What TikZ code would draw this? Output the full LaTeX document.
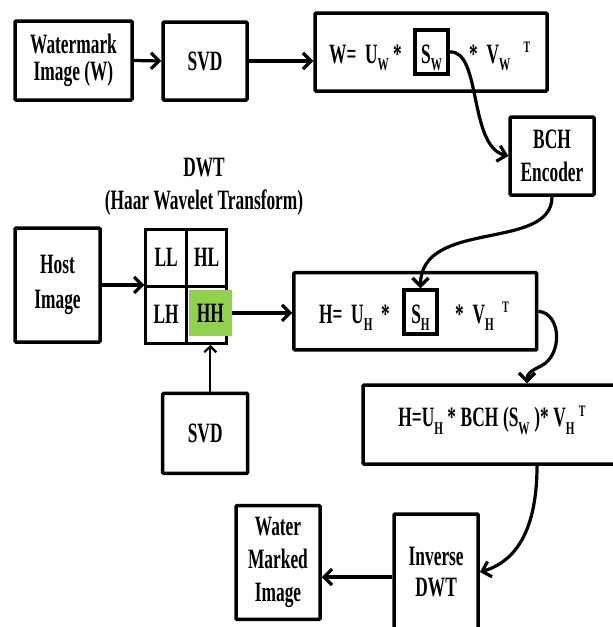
\documentclass[tikz,border=0pt]{standalone}
\usepackage{fontspec}
\setmainfont{Liberation Serif}[FakeStretch=0.62]
\usetikzlibrary{arrows.meta}

\definecolor{hhgreen}{HTML}{92D050}
\newcommand{\dfont}{\fontsize{28}{33}\selectfont\bfseries}
\newcommand{\lo}[1]{\raisebox{-0.27em}{\fontsize{18}{18}\selectfont #1}}
\newcommand{\hi}[1]{\raisebox{0.36em}{\fontsize{16}{16}\selectfont #1}}

\tikzset{
  blk/.style={draw, line width=3.5pt, rounded corners=1pt, align=center, inner sep=0pt, font=\dfont},
  cell/.style={draw, line width=3pt, minimum width=40.5pt, minimum height=57pt, inner sep=0pt, font=\dfont},
  sbox/.style={draw, line width=3.5pt, anchor=base, minimum width=33pt, inner xsep=0pt, inner ysep=3pt,
    text height=30pt, text depth=8pt, font=\dfont},
  txt/.style={inner sep=0pt, font=\dfont},
  arr/.style={line width=3.2pt, -{Straight Barb[length=8pt,width=16pt]}},
  thinarr/.style={line width=2.2pt, -{Straight Barb[length=6pt,width=12pt]}},
}

\begin{document}
\begin{tikzpicture}[x=1pt,y=-1pt]
  \useasboundingbox (0,0) rectangle (613,627);

  % watermark side
  \node[blk, minimum width=117pt, minimum height=79pt, font=\fontsize{28}{27}\selectfont\bfseries] (wmimg) at (73.5,60.5) {Watermark\\Image (W)};
  \node[blk, minimum width=84pt, minimum height=78pt] (svdw) at (205,61) {SVD};
  \node[blk, minimum width=232pt, minimum height=78pt] (wbox) at (431,52) {};
  \node[sbox] (sw) at (431.5,63) {S\lo{W}};
  \node[txt, anchor=base east] (wleft) at (402,63) {W=\ \ U\lo{W}\ *};
  \node[txt, anchor=base west] (wright) at (469,63) {*\ \ V\lo{W}\ \ \,\hi{T}};
  \node[blk, minimum width=84pt, minimum height=78pt] (bch) at (552,156) {BCH\\Encoder};

  % host side
  \node[txt, align=center] (dwtlbl) at (204,187) {DWT\\(Haar Wavelet Transform)};
  \node[blk, minimum width=85pt, minimum height=114pt, font=\fontsize{28}{35}\selectfont\bfseries] (host) at (57.5,285) {Host\\Image};
  \node[cell] (cll) at (166.2,257.7) {LL};
  \node[cell] (chl) at (206.7,257.7) {HL};
  \node[cell] (clh) at (166.2,314.7) {LH};
  \node[cell] (chh) at (206.7,314.7) {};
  \node[fill=hhgreen, minimum width=42.7pt, minimum height=45.7pt, inner sep=0pt, font=\dfont] (hh) at (210.3,312.9) {HH};
  \node[blk, minimum width=242.7pt, minimum height=77.3pt] (hbox) at (415.3,311.3) {};
  \node[sbox] (sh) at (420.5,323) {S\lo{H}};
  \node[txt, anchor=base east] (hleft) at (390,323) {H=\ \ U\lo{H}\ \ *};
  \node[txt, anchor=base west] (hright) at (455,323) {*\ \ V\lo{H}\ \ \hi{T}};
  \node[blk, minimum width=85pt, minimum height=80pt] (svdh) at (205.2,433.3) {SVD};

  % embedding and output
  \node[blk, minimum width=258pt, minimum height=79pt, text height=18pt, text depth=14pt] (emb) at (492,424.5)
    {H=U\lo{H}\ *\,BCH\,(S\lo{W}\,)*\,V\lo{H}\ \hi{T}};
  \node[blk, minimum width=84pt, minimum height=116pt, font=\fontsize{28}{31}\selectfont\bfseries] (idwt) at (436.2,572) {Inverse\\DWT};
  \node[blk, minimum width=84pt, minimum height=113.6pt] (wmk) at (278,562.5) {Water\\Marked\\Image};

  \coordinate (hook) at (541,366);

  \draw[arr] (wmimg.east) -- (svdw.west);
  \draw[arr] (svdw.east) -- (svdw.east -| wbox.west);
  \draw[arr] (sw.east) .. controls +(32,-2) and +(-40,-10) .. (bch.west);
  \draw[arr] (bch.south) .. controls +(0,55) and +(0,-70) .. (sh.north);
  \draw[arr] (host.east) -- (host.east -| cll.west);
  \draw[arr] (hh.east) -- (hh.east -| hbox.west);
  \draw[thinarr] (hh.south |- svdh.north) -- (hh.south |- clh.south);
  \draw[arr] (hbox.east) .. controls +(23,2) and +(22,-11) .. (hook)
    .. controls +(-10,5) and +(0,-10) .. ([xshift=35pt]emb.north);
  \draw[arr] ([xshift=45pt]emb.south) .. controls +(0,56) and +(41,-12) .. (idwt.east);
  \draw[arr] ([yshift=-5pt]idwt.west) -- ([yshift=-5pt]idwt.west -| wmk.east);

\end{tikzpicture}
\end{document}
